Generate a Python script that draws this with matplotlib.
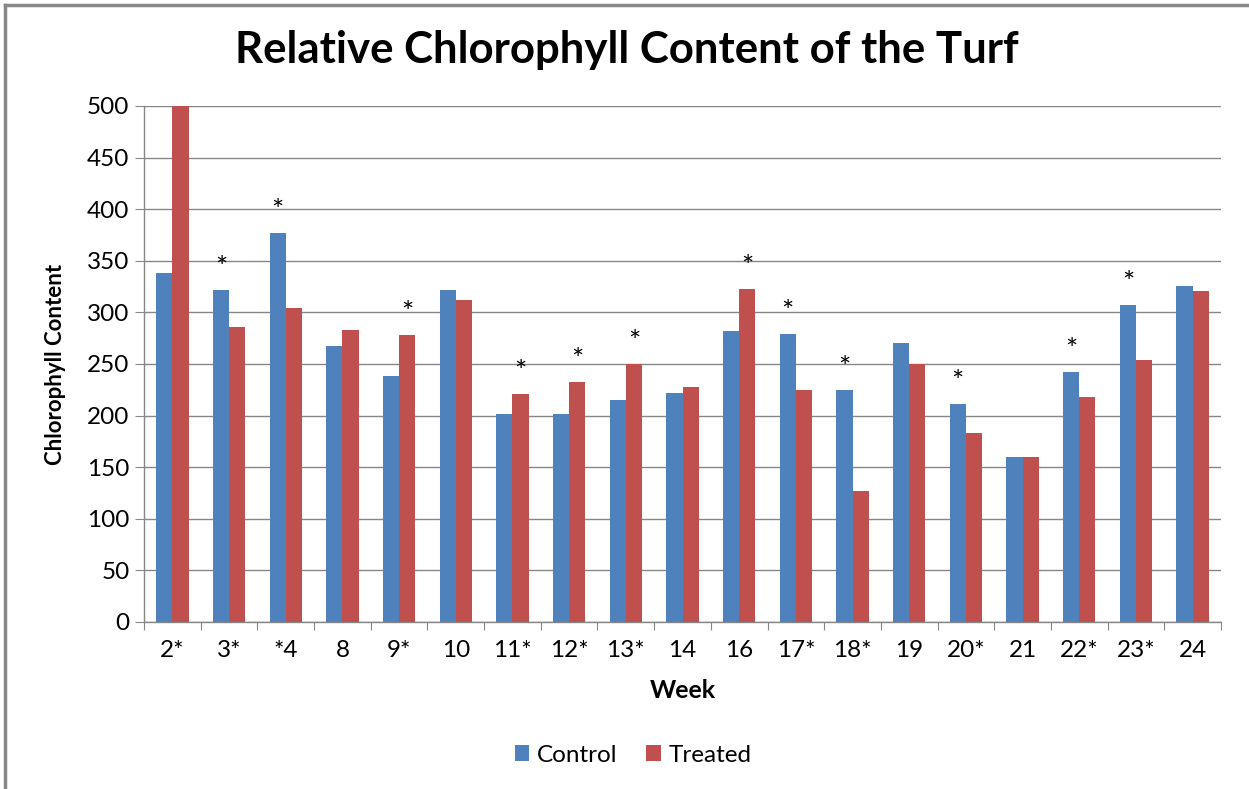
import matplotlib.pyplot as plt
import numpy as np
from matplotlib.lines import Line2D

plt.rcParams['font.family'] = ['Lato', 'DejaVu Sans']

weeks = ['2*', '3*', '*4', '8', '9*', '10', '11*', '12*', '13*', '14',
         '16', '17*', '18*', '19', '20*', '21', '22*', '23*', '24']
control = [338, 322, 377, 267, 238, 322, 202, 202, 215, 222,
           282, 279, 225, 270, 211, 160, 242, 307, 326]
treated = [500, 286, 304, 283, 278, 312, 221, 233, 250, 228,
           323, 225, 127, 250, 183, 160, 218, 254, 321]
# which bar of each week carries the significance star
star_on = ['', 'c', 'c', '', 't', '', 't', 't', 't', '',
           't', 'c', 'c', '', 'c', '', 'c', 'c', '']

blue = '#4F81BD'
red = '#C0504D'
gridc = '#868686'


def main():
    fig = plt.figure(figsize=(12.49, 7.89), dpi=100)
    ax = fig.add_axes([144 / 1249, 1 - 622 / 789, 1077 / 1249, 516 / 789])

    x = np.arange(len(weeks))
    w = 1 / 3.5
    ax.bar(x - w / 2, control, w, color=blue, label='Control', zorder=3)
    ax.bar(x + w / 2, treated, w, color=red, label='Treated', zorder=3)

    for i, s in enumerate(star_on):
        if s == 'c':
            xp, v = x[i] - w / 2, control[i]
        elif s == 't':
            xp, v = x[i] + w / 2, treated[i]
        else:
            continue
        ax.annotate('*', (xp, v), xytext=(0, 15), textcoords='offset points',
                    ha='center', va='center', fontsize=21, color='black')

    ax.set_xlim(-0.5, len(weeks) - 0.5)
    ax.set_ylim(0, 500)
    ax.set_yticks(np.arange(0, 501, 50))
    ax.yaxis.grid(True, color=gridc, linewidth=1, zorder=0)
    ax.set_axisbelow(True)

    ax.set_xticks(np.arange(-0.5, len(weeks), 1))
    ax.set_xticklabels([])
    ax.set_xticks(x, minor=True)
    ax.set_xticklabels(weeks, minor=True, fontsize=17.5)
    ax.tick_params(axis='x', which='major', length=6, color=gridc, direction='out')
    ax.tick_params(axis='x', which='minor', length=0, pad=13)
    ax.tick_params(axis='y', length=6.5, color=gridc, labelsize=17.5, pad=4)

    for sp in ['top', 'right']:
        ax.spines[sp].set_visible(False)
    for sp in ['left', 'bottom']:
        ax.spines[sp].set_color(gridc)
        ax.spines[sp].set_linewidth(1)

    ax.set_ylabel('Chlorophyll Content', fontsize=16, fontweight='bold')
    ax.yaxis.set_label_coords((55 - 144) / 1077, 0.5)
    ax.yaxis.label.set_va('center')
    ax.set_xlabel('Week', fontsize=18, fontweight='bold')
    ax.xaxis.set_label_coords(0.5, (622 - 690) / 516)
    ax.xaxis.label.set_va('center')

    fig.text(627 / 1249, 1 - 50 / 789, 'Relative Chlorophyll Content of the Turf',
             ha='center', va='center', fontsize=31.5, fontweight='bold')

    fig.legend(loc='center', bbox_to_anchor=(633 / 1249, 1 - 755 / 789), ncol=2,
               frameon=False, fontsize=17.5, handlelength=0.6, handleheight=0.6,
               handletextpad=0.3, columnspacing=1.2)

    # chart frame (top and left edges only, as in the original screenshot)
    fig.add_artist(Line2D([5 / 1249, 1], [1 - 5 / 789, 1 - 5 / 789],
                          transform=fig.transFigure, color='#888888', linewidth=2.5))
    fig.add_artist(Line2D([5 / 1249, 5 / 1249], [0, 1 - 5 / 789],
                          transform=fig.transFigure, color='#888888', linewidth=2.5))

    fig.savefig('out.png', dpi=100)


if __name__ == "__main__":
    main()
